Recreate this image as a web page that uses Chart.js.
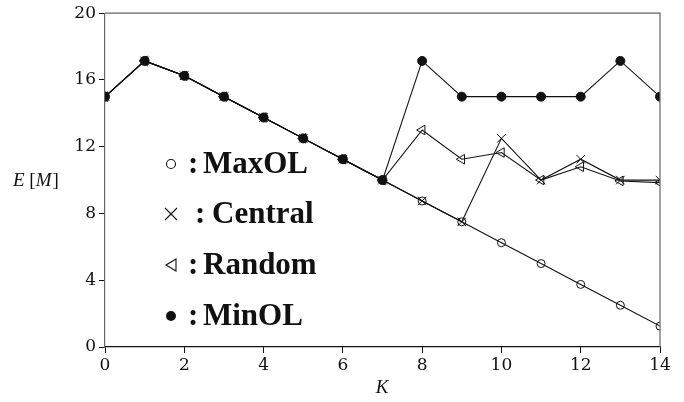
<!DOCTYPE html>
<html>
<head>
<meta charset="utf-8">
<script src="https://cdn.jsdelivr.net/npm/chart.js@4/dist/chart.umd.min.js"></script>
<style>
  html, body { margin: 0; padding: 0; background: #fff; }
  #wrap { width: 684px; height: 402px; }
</style>
</head>
<body>
<div id="wrap"><canvas id="myChart" width="684" height="402"></canvas></div>
<script>
var ks = [0, 1, 2, 3, 4, 5, 6, 7, 8, 9, 10, 11, 12, 13, 14];
var maxOL   = [15, 17.14, 16.25, 15, 13.75, 12.5, 11.25, 10, 8.75, 7.5, 6.25, 5, 3.75, 2.5, 1.25];
var central = [15, 17.14, 16.25, 15, 13.75, 12.5, 11.25, 10, 8.75, 7.5, 12.5, 10, 11.25, 10, 10];
var random  = [15, 17.14, 16.25, 15, 13.75, 12.5, 11.25, 10, 13, 11.25, 11.65, 10, 10.8, 9.95, 9.85];
var minOL   = [15, 17.14, 16.25, 15, 13.75, 12.5, 11.25, 10, 17.14, 15, 15, 15, 15, 17.14, 15];
var xTicks = [0, 2, 4, 6, 8, 10, 12, 14];
var yTicks = [0, 4, 8, 12, 16, 20];
var legendNames = ['MaxOL', 'Central', 'Random', 'MinOL'];

function pts(vals) {
  return ks.map(function(k, i) { return { x: k, y: vals[i] }; });
}

var serif = '"Liberation Serif", "DejaVu Serif", serif';
var tickFont = '"DejaVu Serif", serif';

// legend + axis titles + box
var decor = {
  id: 'decor',
  afterDraw: function(chart) {
    var ctx = chart.ctx;
    var a = chart.chartArea;
    ctx.save();
    ctx.strokeStyle = '#666';
    ctx.lineWidth = 1.2;
    ctx.beginPath();
    ctx.moveTo(a.left, a.top);
    ctx.lineTo(a.right, a.top);
    ctx.lineTo(a.right, a.bottom);
    ctx.stroke();

    ctx.fillStyle = '#111';
    ctx.textBaseline = 'middle';
    ctx.textAlign = 'left';
    // E [M] with italic letters, upright brackets
    var parts = [['E', true], [' [', false], ['M', true], [']', false]];
    var x = 13;
    parts.forEach(function(p) {
      ctx.font = (p[1] ? 'italic ' : '') + '19px ' + serif;
      ctx.fillText(p[0], x, 181);
      x += ctx.measureText(p[0]).width + (p[0] === 'M' ? 1 : 0);
    });
    ctx.font = 'italic 19px ' + serif;
    ctx.textAlign = 'center';
    ctx.fillText('K', 382, 388);

    var rows = [164, 214, 265, 316];
    ctx.strokeStyle = '#111';
    ctx.lineWidth = 1.1;
    for (var i = 0; i < legendNames.length; i++) {
      var y = rows[i];
      var mx = 171;
      ctx.beginPath();
      if (i === 0) {
        ctx.arc(mx, y, 4.5, 0, Math.PI * 2);
        ctx.stroke();
      } else if (i === 1) {
        ctx.moveTo(mx - 6, y - 6); ctx.lineTo(mx + 6, y + 6);
        ctx.moveTo(mx + 6, y - 6); ctx.lineTo(mx - 6, y + 6);
        ctx.stroke();
      } else if (i === 2) {
        ctx.moveTo(mx - 5, y); ctx.lineTo(mx + 5, y - 6); ctx.lineTo(mx + 5, y + 6);
        ctx.closePath();
        ctx.stroke();
      } else {
        ctx.arc(mx, y, 5, 0, Math.PI * 2);
        ctx.fill();
      }
      ctx.font = 'bold 31px ' + serif;
      ctx.textAlign = 'left';
      ctx.fillText(':', i === 1 ? 195 : 188, y + 1);
      ctx.fillText(legendNames[i], i === 1 ? 212 : 203, y + 1);
    }
    ctx.restore();
  }
};

var common = { borderColor: '#111', borderWidth: 1.1, showLine: true, pointBorderWidth: 1, tension: 0 };

var ctx = document.getElementById('myChart');
var myChart = new Chart(ctx, {
  type: 'scatter',
  data: {
    datasets: [
      Object.assign({ label: 'MaxOL', data: pts(maxOL), pointStyle: 'circle', pointRadius: 4,
        pointBackgroundColor: 'rgba(0,0,0,0)', pointBorderColor: '#111' }, common),
      Object.assign({ label: 'Central', data: pts(central), pointStyle: 'crossRot', pointRadius: 6,
        pointBorderColor: '#111' }, common),
      Object.assign({ label: 'Random', data: pts(random), pointStyle: 'triangle', pointRotation: -90, pointRadius: 5.5,
        pointBackgroundColor: 'rgba(0,0,0,0)', pointBorderColor: '#111' }, common),
      Object.assign({ label: 'MinOL', data: pts(minOL), pointStyle: 'circle', pointRadius: 4.5,
        pointBackgroundColor: '#111', pointBorderColor: '#111' }, common)
    ]
  },
  options: {
    responsive: false,
    animation: false,
    layout: { padding: { top: 12, right: 24, left: 0, bottom: 0 } },
    plugins: { legend: { display: false }, tooltip: { enabled: false } },
    scales: {
      x: {
        type: 'linear', min: 0, max: 14,
        afterBuildTicks: function(axis) { axis.ticks = xTicks.map(function(v) { return { value: v }; }); },
        afterFit: function(axis) { axis.height = 55; },
        grid: { drawOnChartArea: false, drawTicks: true, tickLength: 6, color: '#111' },
        border: { color: '#111', width: 1.2 },
        ticks: { color: '#111', font: { family: tickFont, size: 17 }, padding: 2, maxRotation: 0 }
      },
      y: {
        min: 0, max: 20,
        afterBuildTicks: function(axis) { axis.ticks = yTicks.map(function(v) { return { value: v }; }); },
        afterFit: function(axis) { axis.width = 105; },
        grid: { drawOnChartArea: false, drawTicks: true, tickLength: 6, color: '#111' },
        border: { color: '#666', width: 1.2 },
        ticks: { color: '#111', font: { family: tickFont, size: 17 }, padding: 3 }
      }
    }
  },
  plugins: [decor]
});
</script>
</body>
</html>
